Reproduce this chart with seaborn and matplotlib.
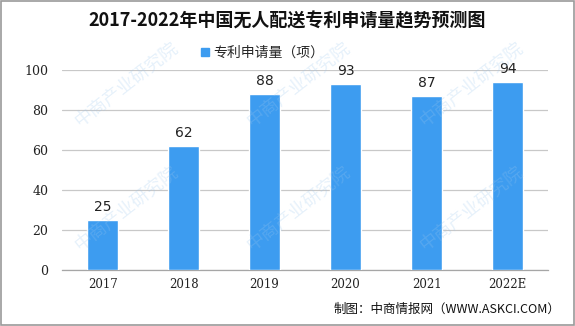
import matplotlib
matplotlib.use("Agg")
import matplotlib.pyplot as plt
import matplotlib.patches as mpatches
from matplotlib.ticker import FixedLocator
import numpy as np
import pandas as pd
import seaborn as sns

years = ["2017", "2018", "2019", "2020", "2021", "2022E"]
applications = [25, 62, 88, 93, 87, 94]
series_name = "专利申请量（项）"
title = "2017-2022年中国无人配送专利申请量趋势预测图"
source = "制图：中商情报网（WWW.ASKCI.COM）"
watermark = "中商产业研究院"

sns.set_theme(style="white")
plt.rcParams["font.family"] = ["Noto Sans CJK SC", "DejaVu Sans"]

df = pd.DataFrame({"year": years, "value": applications})
bar_color = "#3d9cf0"

fig = plt.figure(figsize=(5.75, 3.26), dpi=100)
ax = fig.add_axes([0.108, 0.172, 0.845, 0.613])

sns.barplot(data=df, x="year", y="value", color=bar_color, width=0.38,
            saturation=1, ax=ax, zorder=3)

ax.set_ylim(0, 100)
ax.set_yticks(range(0, 101, 20))
ax.set_xlim(-0.5, len(years) - 0.5)
ax.set_xlabel("")
ax.set_ylabel("")
ax.yaxis.grid(True, color="#c8c8c8", linewidth=0.9, zorder=0)
ax.xaxis.grid(False)
for s in ["top", "right", "left"]:
    ax.spines[s].set_visible(False)
ax.spines["bottom"].set_color("#a6a6a6")
ax.spines["bottom"].set_linewidth(0.9)

ax.tick_params(axis="y", length=0, labelsize=9, colors="#222222", pad=10)
ax.tick_params(axis="x", which="major", length=0, labelsize=8.5, colors="#222222", pad=6)
ax.xaxis.set_minor_locator(FixedLocator(np.arange(-0.5, len(years), 1.0)))
ax.tick_params(axis="x", which="minor", length=4, color="#a6a6a6", width=0.9)
for lbl in ax.get_xticklabels() + ax.get_yticklabels():
    lbl.set_family(["DejaVu Serif"])

for i, v in enumerate(applications):
    ax.text(i, v + 3, f"{v}", ha="center", va="bottom", fontsize=10,
            color="#222222", family=["DejaVu Sans"])

fig.text(0.5, 0.935, title, ha="center", va="center", fontsize=13,
         fontweight="bold", color="#111111")

handle = mpatches.Patch(color=bar_color, label=series_name)
fig.legend(handles=[handle], loc="center", bbox_to_anchor=(0.457, 0.838),
           frameon=False, fontsize=10, handlelength=0.6, handleheight=0.6,
           handletextpad=0.3, borderpad=0)

fig.text(0.975, 0.05, source, ha="right", va="center", fontsize=9,
         color="#111111")

# faint diagonal watermark
for wx, wy in [(0.22, 0.74), (0.52, 0.74), (0.82, 0.74),
               (0.22, 0.36), (0.52, 0.36), (0.82, 0.36)]:
    fig.text(wx, wy, watermark, ha="center", va="center", fontsize=13,
             rotation=38, color="#9cc7ee", alpha=0.25, zorder=0)

fig.add_artist(mpatches.Rectangle((0.001, 0.002), 0.997, 0.995,
                                  transform=fig.transFigure, fill=False,
                                  edgecolor="#9a9a9a", linewidth=1.2))

fig.savefig("out.png", dpi=100)
